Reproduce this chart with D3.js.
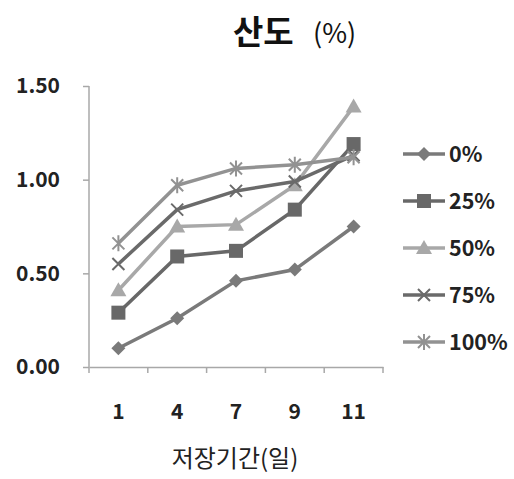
<!DOCTYPE html>
<html>
<head>
<meta charset="utf-8">
<script src="https://cdn.jsdelivr.net/npm/d3@7"></script>
<style>
  body { margin: 0; background: #fff; }
  text { font-family: "Noto Sans CJK KR", "DejaVu Sans", sans-serif; }
</style>
</head>
<body>
<div id="chart"></div>
<script>
// data
const days = ["1", "4", "7", "9", "11"];
const seriesNames = ["0%", "25%", "50%", "75%", "100%"];
const v0 = [0.10, 0.26, 0.46, 0.52, 0.75];
const v25 = [0.29, 0.59, 0.62, 0.84, 1.19];
const v50 = [0.41, 0.75, 0.76, 0.97, 1.39];
const v75 = [0.55, 0.84, 0.94, 0.99, 1.13];
const v100 = [0.66, 0.97, 1.06, 1.08, 1.12];
const yTicks = [0, 0.5, 1.0, 1.5];

const W = 514, H = 479;
const MARGIN = {left: 89, top: 86, right: 131, bottom: 112};

const series = [
  {name: seriesNames[0], values: v0, color: "#7a7a7a", marker: "diamond"},
  {name: seriesNames[1], values: v25, color: "#686868", marker: "square"},
  {name: seriesNames[2], values: v50, color: "#a8a8a8", marker: "triangle"},
  {name: seriesNames[3], values: v75, color: "#6a6a6a", marker: "x"},
  {name: seriesNames[4], values: v100, color: "#929292", marker: "star"}
];

const svg = d3.select("#chart").append("svg")
  .attr("width", W).attr("height", H);

const xScale = d3.scaleBand()
  .domain(days)
  .range([MARGIN.left, W - MARGIN.right]);

const yScale = d3.scaleLinear()
  .domain([0, 1.5])
  .range([H - MARGIN.bottom, MARGIN.top]);

// axes
const xAxisG = svg.append("g")
  .attr("transform", `translate(0,${H - MARGIN.bottom})`)
  .call(d3.axisBottom(xScale).tickSize(0).tickPadding(0).tickFormat(""));
xAxisG.selectAll("path").attr("stroke", "#a8a8a8").attr("stroke-width", 1.5);

// tick marks at band edges
const edges = days.map(d => xScale(d)).concat([xScale.range()[1]]);
svg.append("g").selectAll("line")
  .data(edges)
  .join("line")
  .attr("x1", d => d).attr("x2", d => d)
  .attr("y1", H - MARGIN.bottom).attr("y2", H - MARGIN.bottom + 6)
  .attr("stroke", "#a8a8a8").attr("stroke-width", 1.5);

svg.append("g").selectAll("text")
  .data(days)
  .join("text")
  .attr("x", d => xScale(d) + xScale.bandwidth() / 2)
  .attr("y", H - MARGIN.bottom + 52)
  .attr("text-anchor", "middle")
  .attr("font-size", 21).attr("font-weight", "bold").attr("fill", "#222")
  .text(d => d);

const yAxisG = svg.append("g")
  .attr("transform", `translate(${MARGIN.left},0)`)
  .call(d3.axisLeft(yScale).tickValues(yTicks).tickSize(6).tickPadding(23)
    .tickFormat(d3.format(".2f")));
yAxisG.selectAll("path").attr("stroke", "#a8a8a8").attr("stroke-width", 1.5);
yAxisG.selectAll("line").attr("stroke", "#a8a8a8").attr("stroke-width", 1.5);
yAxisG.selectAll("text")
  .attr("font-size", 21).attr("font-weight", "bold").attr("fill", "#222")
  .style("font-family", "'Noto Sans CJK KR', sans-serif");
yAxisG.select(".domain").attr("d", `M0,${yScale(1.5)}V${yScale(0)}`);

// markers
function drawMarker(g, type, color) {
  if (type === "diamond") {
    g.append("path").attr("d", "M0,-7L7,0L0,7L-7,0Z").attr("fill", color);
  } else if (type === "square") {
    g.append("rect").attr("x", -7).attr("y", -7).attr("width", 14).attr("height", 14).attr("fill", color);
  } else if (type === "triangle") {
    g.append("path").attr("d", "M0,-8L8,6L-8,6Z").attr("fill", color);
  } else if (type === "x") {
    g.append("path").attr("d", "M-6,-6L6,6M-6,6L6,-6").attr("stroke", color).attr("stroke-width", 2);
  } else {
    g.append("path").attr("d", "M-6,-6L6,6M-6,6L6,-6M0,-8V8").attr("stroke", color).attr("stroke-width", 2);
  }
}

const line = d3.line()
  .x((d, i) => xScale(days[i]) + xScale.bandwidth() / 2)
  .y(d => yScale(d));

const plot = svg.append("g");
series.forEach(s => {
  plot.append("path")
    .datum(s.values)
    .attr("d", line)
    .attr("fill", "none")
    .attr("stroke", s.color)
    .attr("stroke-width", 3.5);
  s.values.forEach((v, i) => {
    const g = plot.append("g")
      .attr("transform", `translate(${xScale(days[i]) + xScale.bandwidth() / 2},${yScale(v)})`);
    drawMarker(g, s.marker, s.color);
  });
});

// legend
const legend = svg.append("g");
series.forEach((s, i) => {
  const y = 154 + i * 47;
  legend.append("line")
    .attr("x1", 403).attr("x2", 445).attr("y1", y).attr("y2", y)
    .attr("stroke", s.color).attr("stroke-width", 3.5);
  const g = legend.append("g").attr("transform", `translate(424,${y})`);
  drawMarker(g, s.marker, s.color);
  legend.append("text")
    .attr("x", 449).attr("y", y + 8)
    .attr("font-size", 21.5).attr("font-weight", "bold").attr("fill", "#222")
    .text(s.name);
});

// titles
svg.append("text")
  .attr("x", 233).attr("y", 44)
  .attr("font-size", 33).attr("font-weight", "bold").attr("fill", "#111")
  .text("산도");
svg.append("text")
  .attr("x", 313).attr("y", 43)
  .attr("font-size", 27).attr("fill", "#111")
  .text("(%)");

svg.append("text")
  .attr("x", 235).attr("y", 467)
  .attr("text-anchor", "middle")
  .attr("font-size", 24).attr("fill", "#222")
  .text("저장기간(일)");
</script>
</body>
</html>
